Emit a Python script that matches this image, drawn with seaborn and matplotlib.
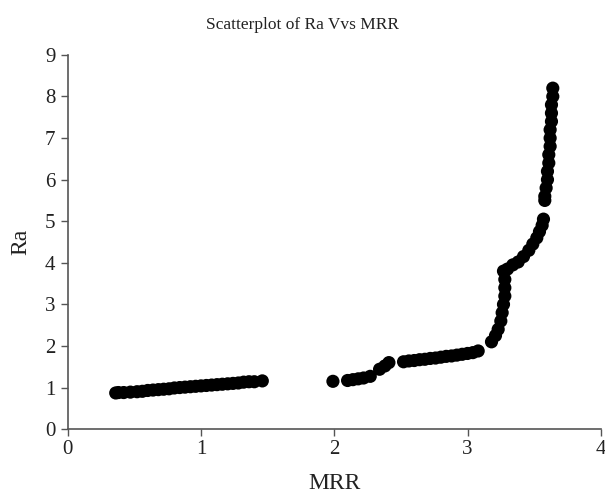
import matplotlib
matplotlib.use("Agg")
import matplotlib.pyplot as plt
import seaborn as sns
import pandas as pd

mrr = [0.36, 0.38, 0.42, 0.47, 0.52, 0.56, 0.60, 0.64, 0.68, 0.72, 0.76, 0.80, 0.84, 0.88,
       0.92, 0.96, 1.00, 1.04, 1.08, 1.12, 1.16, 1.20, 1.24, 1.28, 1.32, 1.36, 1.40, 1.46,
       1.99, 2.10, 2.14, 2.18, 2.22, 2.27, 2.34, 2.38, 2.41, 2.52, 2.56, 2.60, 2.64, 2.68,
       2.72, 2.76, 2.80, 2.84, 2.88, 2.92, 2.96, 3.00, 3.04, 3.08, 3.18, 3.21, 3.23, 3.25,
       3.26, 3.27, 3.28, 3.28, 3.28, 3.27, 3.30, 3.34, 3.38, 3.42, 3.46, 3.49, 3.52, 3.54,
       3.56, 3.57, 3.58, 3.58, 3.59, 3.60, 3.60, 3.61, 3.61, 3.62, 3.62, 3.62, 3.63, 3.63,
       3.63, 3.64, 3.64]
ra = [0.87, 0.88, 0.88, 0.89, 0.90, 0.91, 0.93, 0.94, 0.95, 0.96, 0.97, 0.99, 1.00, 1.01,
      1.02, 1.03, 1.04, 1.05, 1.06, 1.07, 1.08, 1.09, 1.10, 1.11, 1.13, 1.14, 1.14, 1.16,
      1.15, 1.17, 1.19, 1.21, 1.23, 1.27, 1.44, 1.52, 1.60, 1.62, 1.64, 1.65, 1.67, 1.68,
      1.70, 1.71, 1.73, 1.75, 1.76, 1.78, 1.80, 1.82, 1.84, 1.88, 2.10, 2.25, 2.40, 2.60,
      2.80, 3.00, 3.20, 3.40, 3.60, 3.80, 3.85, 3.95, 4.02, 4.15, 4.30, 4.45, 4.60, 4.75,
      4.90, 5.05, 5.50, 5.60, 5.80, 6.00, 6.20, 6.40, 6.60, 6.80, 7.00, 7.20, 7.40, 7.60,
      7.80, 8.00, 8.20]
x_ticks = [0, 1, 2, 3, 4]
y_ticks = [0, 1, 2, 3, 4, 5, 6, 7, 8, 9]

sns.set_style("white")
plt.rcParams['font.family'] = ['Liberation Serif', 'DejaVu Serif']

df = pd.DataFrame({"MRR": mrr, "Ra": ra})

fig = plt.figure(figsize=(6.05, 4.99), dpi=100)
ax = fig.add_axes([0.112, 0.140, 0.881, 0.750])
sns.scatterplot(data=df, x="MRR", y="Ra", color="black", s=90, edgecolor="none", ax=ax)

ax.set_xlim(0, 4)
ax.set_ylim(0, 9)
ax.set_xticks(x_ticks)
ax.set_yticks(y_ticks)
ax.tick_params(axis="both", which="major", bottom=True, left=True, direction="out",
               length=5, width=1, color="#555555", labelsize=15, labelcolor="#222222")
ax.tick_params(axis="y", pad=4)
ax.tick_params(axis="x", pad=3)
for side in ["top", "right"]:
    ax.spines[side].set_visible(False)
for side in ["left", "bottom"]:
    ax.spines[side].set_color("#555555")
    ax.spines[side].set_linewidth(1.2)

ax.set_xlabel("MRR", fontsize=17, color="#222222", labelpad=10)
ax.set_ylabel("Ra", fontsize=17, color="#222222", labelpad=10)
fig.suptitle("Scatterplot of Ra Vvs MRR", fontsize=12.5, color="#222222", y=0.965)

fig.savefig("out.png", dpi=100)
